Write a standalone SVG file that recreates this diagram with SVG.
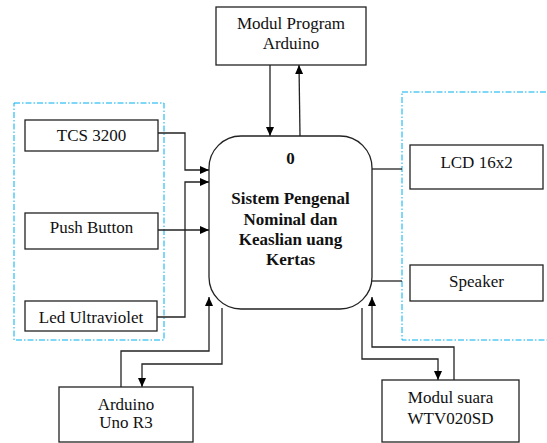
<svg xmlns="http://www.w3.org/2000/svg" width="547" height="443" viewBox="0 0 547 443">
<defs>
<marker id="ah" markerWidth="9" markerHeight="8" refX="9" refY="4" orient="auto" markerUnits="userSpaceOnUse">
<path d="M0,0 L9,4 L0,8 Z" fill="#000"/>
</marker>
<style>
.box{fill:#fff;stroke:#222;stroke-width:1.3}
.grp{fill:none;stroke:#00b0f0;stroke-width:1;stroke-dasharray:6 2 1.5 2}
text{font-family:'Liberation Serif','Times New Roman',serif;font-size:17px;fill:#111;text-anchor:middle;font-weight:normal}
text.b{font-weight:bold}
.c{fill:none;stroke:#222;stroke-width:1.3}
.ca{fill:none;stroke:#222;stroke-width:1.3;marker-end:url(#ah)}
</style>
</defs>
<rect width="547" height="443" fill="#fff"/>
<g id="groups">
<rect class="grp" x="14" y="103" width="150" height="237"/>
<rect class="grp" x="402" y="92" width="160" height="248"/>
</g>
<g id="connectors">
<path class="ca" d="M158,133 H185 V170 H209"/>
<path class="ca" d="M158,230 H209"/>
<path class="ca" d="M157,317 H185 V182 H209"/>
<path class="ca" d="M270,65 V136"/>
<path class="ca" d="M300,136 L299,65"/>
<path class="c" d="M372,169 H402"/>
<path class="c" d="M372,281 H402"/>
<path class="ca" d="M121,387 V351 H209 V297"/>
<path class="ca" d="M222,308 V364 H142 V387"/>
<path class="ca" d="M362,308 V359 H438 V380"/>
<path class="ca" d="M454,380 V347 H372 V297"/>
</g>
<g id="central">
<rect class="box" x="209" y="136" width="163" height="173" rx="32" ry="32"/>
<text class="b" x="290.5" y="164">0</text>
<text class="b" x="290.5" y="204">Sistem Pengenal</text>
<text class="b" x="290.5" y="224.5">Nominal dan</text>
<text class="b" x="290.5" y="245">Keaslian uang</text>
<text class="b" x="290.5" y="265">Kertas</text>
</g>
<g id="modul-program">
<rect class="box" x="216" y="7" width="150" height="58"/>
<text x="291" y="29">Modul Program</text>
<text x="291" y="49">Arduino</text>
</g>
<g id="tcs">
<rect class="box" x="25" y="120" width="133" height="31"/>
<text x="91.5" y="141">TCS 3200</text>
</g>
<g id="push">
<rect class="box" x="25" y="213" width="133" height="36"/>
<text x="91.5" y="233">Push Button</text>
</g>
<g id="led">
<rect class="box" x="25" y="301" width="132" height="30"/>
<text x="91" y="323">Led Ultraviolet</text>
</g>
<g id="lcd">
<rect class="box" x="410" y="145" width="133" height="44"/>
<text x="476.5" y="168">LCD 16x2</text>
</g>
<g id="speaker">
<rect class="box" x="410" y="265" width="133" height="36"/>
<text x="476.5" y="287">Speaker</text>
</g>
<g id="arduino-uno">
<rect class="box" x="59" y="387" width="134" height="55"/>
<text x="126" y="410">Arduino</text>
<text x="126" y="428">Uno R3</text>
</g>
<g id="modul-suara">
<rect class="box" x="382" y="380" width="137" height="62"/>
<text x="450.5" y="403">Modul suara</text>
<text x="450.5" y="424">WTV020SD</text>
</g>
</svg>
